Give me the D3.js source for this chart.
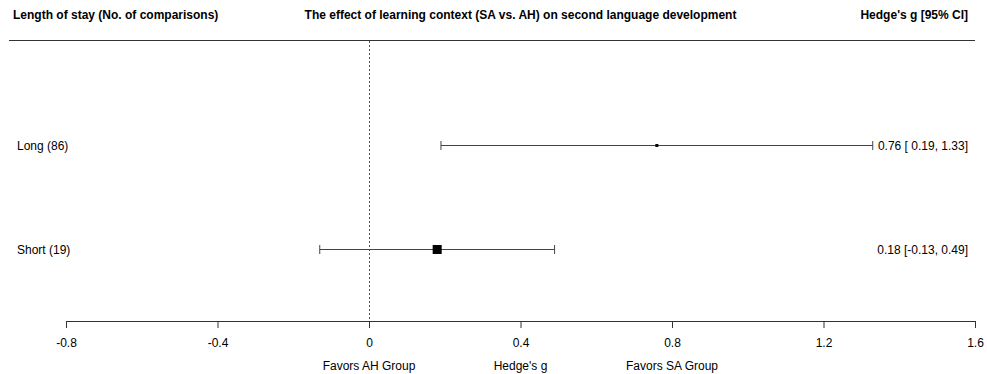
<!DOCTYPE html>
<html>
<head>
<meta charset="utf-8">
<script src="https://cdn.jsdelivr.net/npm/d3@7"></script>
<style>
  html, body { margin: 0; padding: 0; background: #fff; }
  svg { display: block; font-family: "Liberation Sans", Arial, sans-serif; }
</style>
</head>
<body>
<svg id="chart" width="987" height="374"></svg>
<script>
// Subgroups of the forest plot
const labels = ["Long (86)", "Short (19)"];
const estimates = [0.76, 0.18];
const lowers = [0.19, -0.13];
const uppers = [1.33, 0.49];
const markerSizes = [3, 9];          // square side in px (relative study weight)
const ciTexts = ["0.76 [ 0.19, 1.33]", "0.18 [-0.13, 0.49]"];
const xTicks = [-0.8, -0.4, 0, 0.4, 0.8, 1.2, 1.6];
const xTickLabels = ["-0.8", "-0.4", "0", "0.4", "0.8", "1.2", "1.6"];
const headers = ["Length of stay (No. of comparisons)",
                 "The effect of learning context (SA vs. AH) on second language development",
                 "Hedge's g [95% CI]"];
const footers = [{ text: "Favors AH Group", at: 0 },
                 { text: "Hedge's g", at: 0.4 },
                 { text: "Favors SA Group", at: 0.8 }];

const svg = d3.select("#chart");
const x = d3.scaleLinear().domain([-0.8, 1.6]).range([66, 975]);
const y = d3.scalePoint().domain(labels).range([145, 249]);

const axisY = 321;
const ink = "#000";

// Column headers (the title is centred over the middle of the axis)
svg.append("text").attr("x", 13).attr("y", 19).attr("font-size", 12).attr("font-weight", "bold")
  .text(headers[0]);
svg.append("text").attr("x", x(0.4)).attr("y", 19).attr("font-size", 12).attr("font-weight", "bold")
  .attr("text-anchor", "middle").text(headers[1]);
svg.append("text").attr("x", 968).attr("y", 19).attr("font-size", 12).attr("font-weight", "bold")
  .attr("text-anchor", "end").text(headers[2]);

// Header rule
svg.append("line").attr("x1", 9).attr("x2", 975).attr("y1", 40.5).attr("y2", 40.5)
  .attr("stroke", "#333").attr("stroke-width", 1.2);

// Null reference line
svg.append("line").attr("x1", Math.round(x(0)) + 0.5).attr("x2", Math.round(x(0)) + 0.5)
  .attr("y1", 41).attr("y2", axisY)
  .attr("stroke", "#555").attr("stroke-width", 1).attr("stroke-dasharray", "2,2");

// Confidence intervals with end caps
const rows = svg.append("g").selectAll("g").data(labels).join("g");
rows.append("line")
  .attr("x1", (d, i) => x(lowers[i])).attr("x2", (d, i) => x(uppers[i]))
  .attr("y1", d => y(d) + 0.5).attr("y2", d => y(d) + 0.5)
  .attr("stroke", "#444").attr("stroke-width", 1);
rows.append("line")
  .attr("x1", (d, i) => x(lowers[i])).attr("x2", (d, i) => x(lowers[i]))
  .attr("y1", d => y(d) - 4).attr("y2", d => y(d) + 5)
  .attr("stroke", "#444").attr("stroke-width", 1);
rows.append("line")
  .attr("x1", (d, i) => x(uppers[i])).attr("x2", (d, i) => x(uppers[i]))
  .attr("y1", d => y(d) - 4).attr("y2", d => y(d) + 5)
  .attr("stroke", "#444").attr("stroke-width", 1);
rows.append("rect")
  .attr("x", (d, i) => x(estimates[i]) - markerSizes[i] / 2)
  .attr("y", (d, i) => y(d) + 0.5 - markerSizes[i] / 2)
  .attr("width", (d, i) => markerSizes[i])
  .attr("height", (d, i) => markerSizes[i])
  .attr("fill", ink);

// Row labels and estimate text
rows.append("text").attr("x", 17).attr("y", d => y(d) + 4.5).attr("font-size", 12)
  .text(d => d);
rows.append("text").attr("x", 968).attr("y", d => y(d) + 4.5).attr("font-size", 12)
  .attr("text-anchor", "end").text((d, i) => ciTexts[i]);

// X axis
const axis = d3.axisBottom(x).tickValues(xTicks)
  .tickFormat((d, i) => xTickLabels[i]).tickSize(7).tickPadding(10).tickSizeOuter(0);
const gAxis = svg.append("g").attr("transform", `translate(0,${axisY})`).call(axis);
gAxis.select(".domain").attr("stroke", "#333");
gAxis.selectAll(".tick line").attr("stroke", "#333");
gAxis.selectAll(".tick text").attr("font-size", 12).attr("fill", ink)
  .attr("font-family", "Liberation Sans, Arial, sans-serif");

// Footer annotations
svg.append("g").selectAll("text").data(footers).join("text")
  .attr("x", d => x(d.at)).attr("y", 370).attr("font-size", 12)
  .attr("text-anchor", "middle").text(d => d.text);
</script>
</body>
</html>
